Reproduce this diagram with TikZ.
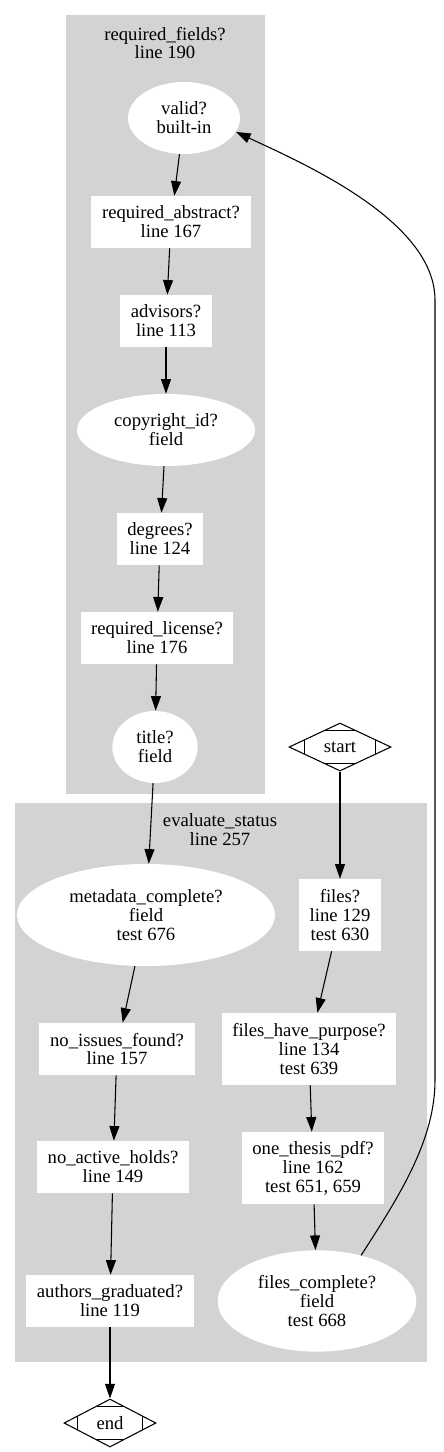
\documentclass[tikz,border=0pt]{standalone}
\usepackage{fontspec}
\setmainfont{Liberation Serif}
\usepackage{xcolor}
\usetikzlibrary{shapes.geometric,arrows.meta,calc}

\definecolor{clustergray}{HTML}{D3D3D3}

\tikzset{
  every node/.style={font=\fontsize{14}{14.2}\selectfont, align=center},
  rulebox/.style={rectangle, fill=white, inner xsep=8pt, inner ysep=0pt, minimum height=39pt},
  rulebox3/.style={rulebox, minimum height=54pt},
  fieldoval/.style={ellipse, fill=white, inner sep=0pt},
  terminal/.style={diamond, draw, line width=0.8pt, inner sep=0pt, minimum height=36pt,
    path picture={
      \draw[line width=0.8pt] ($(path picture bounding box.north)!0.3!(path picture bounding box.west)$) -- ($(path picture bounding box.north)!0.3!(path picture bounding box.east)$);
      \draw[line width=0.8pt] ($(path picture bounding box.south)!0.3!(path picture bounding box.west)$) -- ($(path picture bounding box.south)!0.3!(path picture bounding box.east)$);
      \draw[line width=0.8pt] ($(path picture bounding box.west)!0.3!(path picture bounding box.north)$) -- ($(path picture bounding box.west)!0.3!(path picture bounding box.south)$);
      \draw[line width=0.8pt] ($(path picture bounding box.east)!0.3!(path picture bounding box.north)$) -- ($(path picture bounding box.east)!0.3!(path picture bounding box.south)$);
    }},
  flowarrow/.style={-{Triangle[length=11pt,width=7.5pt]}, line width=0.8pt}
}

\begin{document}
\begin{tikzpicture}[x=0.75pt,y=-0.75pt]
  \useasboundingbox (0,0) rectangle (443,1452);

  % clusters
  \fill[clustergray] (66,15) rectangle (265,794);
  \fill[clustergray] (15,803) rectangle (427,1362);
  \node (reqlbl) at (165,43) {required\_fields?\\line 190};
  \node (evallbl) at (220,830) {evaluate\_status\\line 257};

  % required fields
  \node[fieldoval, minimum width=84pt, minimum height=54pt] (valid) at (184,118) {valid?\\built-in};
  \node[rulebox] (abstract) at (171,222) {required\_abstract?\\line 167};
  \node[rulebox] (advisors) at (166,321) {advisors?\\line 113};
  \node[fieldoval, minimum width=133.5pt, minimum height=54pt] (copyright) at (166,430) {copyright\_id?\\field};
  \node[rulebox] (degrees) at (160,539) {degrees?\\line 124};
  \node[rulebox] (license) at (157,638) {required\_license?\\line 176};
  \node[fieldoval, minimum width=64pt, minimum height=54pt] (title) at (155,747) {title?\\field};

  \node[terminal, minimum width=76.5pt] (start) at (340,747) {start};

  % evaluate status
  \node[fieldoval, minimum width=193.5pt, minimum height=76.5pt] (metadata) at (146,915) {metadata\_complete?\\field\\test 676};
  \node[rulebox3] (files) at (340,915) {files?\\line 129\\test 630};
  \node[rulebox] (issues) at (117,1049) {no\_issues\_found?\\line 157};
  \node[rulebox3] (purpose) at (309,1049) {files\_have\_purpose?\\line 134\\test 639};
  \node[rulebox] (holds) at (113,1167) {no\_active\_holds?\\line 149};
  \node[rulebox3] (onepdf) at (313,1168) {one\_thesis\_pdf?\\line 162\\test 651, 659};
  \node[rulebox] (graduated) at (110,1301) {authors\_graduated?\\line 119};
  \node[fieldoval, minimum width=149pt, minimum height=76pt] (fcomplete) at (317,1301) {files\_complete?\\field\\test 668};

  \node[terminal, minimum width=69pt] (end) at (110,1423) {end};

  \foreach \a/\b in {valid/abstract, abstract/advisors, advisors/copyright, copyright/degrees,
                     degrees/license, license/title, title/metadata, metadata/issues,
                     issues/holds, holds/graduated, graduated/end, start/files,
                     files/purpose, purpose/onepdf, onepdf/fcomplete}
    \draw[flowarrow] (\a) -- (\b);

  \draw[flowarrow] (fcomplete.46) .. controls (400,1195) and (435,1140) .. (435,1080)
    -- (435,300) .. controls (435,220) and (300,162) .. (valid.-15);
\end{tikzpicture}
\end{document}
